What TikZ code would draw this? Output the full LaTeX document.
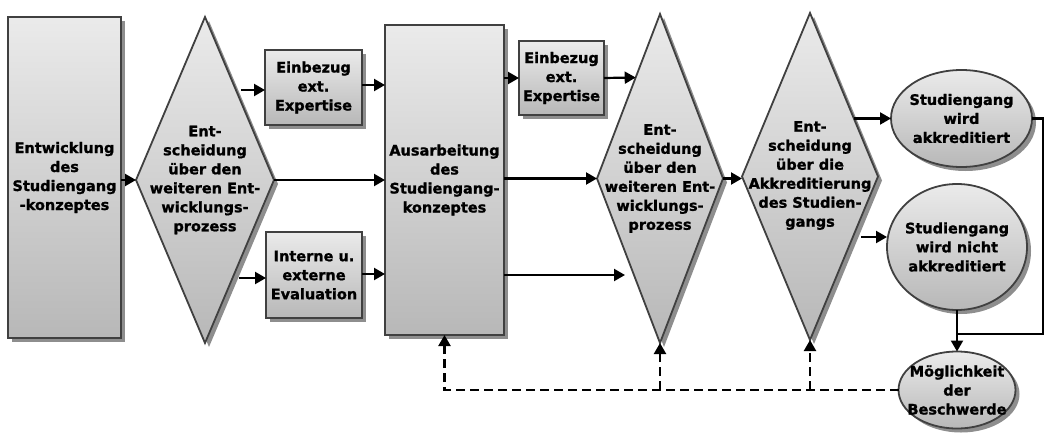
\documentclass[tikz,border=0pt]{standalone}
\usepackage{fontspec}
\setmainfont{DejaVu Sans}
\newfontfamily\hbfont{DejaVu Sans Bold}[FakeBold=1.2]
\usetikzlibrary{shapes.geometric,shadows,arrows.meta,calc}
\definecolor{bordc}{HTML}{404040}
\definecolor{shadc}{HTML}{8E8E8E}
\begin{document}
\begin{tikzpicture}[x=1pt,y=-1pt,
  shp/.style={draw=bordc, line width=1.8pt, top color=black!8, bottom color=black!28,
    drop shadow={shadow xshift=4pt, shadow yshift=-4pt, fill=shadc, opacity=1},
    inner sep=0pt, outer sep=0pt},
  box/.style={shp, rectangle, align=center, font=\hbfont\fontsize{14.5}{19}\selectfont},
  dia/.style={shp, diamond},
  ell/.style={shp, ellipse},
  txt/.style={align=center, inner sep=0pt, font=\hbfont\fontsize{14.5}{19}\selectfont},
  arr/.style={line width=2.2pt, -{Triangle[length=11pt,width=12pt]}},
  ln/.style={line width=2.2pt},
  darr/.style={line width=2.2pt, dash pattern=on 9pt off 5pt, -{Triangle[length=11pt,width=12pt]}}
]
\useasboundingbox (0,0) rectangle (1052,444);

% shapes
\node[box, minimum width=113pt, minimum height=321pt] (b1) at (64.5,177.5)
  {Entwicklung\\des\\Studiengang\\-konzeptes};
\node[dia, minimum width=138pt, minimum height=326pt] (d1) at (205,180) {};
\node[txt] (d1t) at (d1) {Ent-\\scheidung\\über den\\weiteren Ent-\\wicklungs-\\prozess};
\node[box, minimum width=97pt, minimum height=75pt] (e1) at (313.5,87.5)
  {Einbezug\\ext.\\Expertise};
\node[box, minimum width=96pt, minimum height=86pt] (i1) at (314,275)
  {Interne u.\\externe\\Evaluation};
\node[box, minimum width=119pt, minimum height=310pt] (a) at (444.5,180)
  {Ausarbeitung\\des\\Studiengang-\\konzeptes};
\node[box, minimum width=85pt, minimum height=74pt] (e2) at (561.5,78)
  {Einbezug\\ext.\\Expertise};
\node[dia, minimum width=126pt, minimum height=329pt] (d2) at (660,178.5) {};
\node[txt] (d2t) at (d2) {Ent-\\scheidung\\über den\\weiteren Ent-\\wicklungs-\\prozess};
\node[dia, minimum width=136pt, minimum height=327pt] (d3) at (810,176.5) {};
\node[txt] (d3t) at ($(d3)+(0,-1)$) {Ent-\\scheidung\\über die\\Akkreditierung\\des Studien-\\gangs};
\node[ell, minimum width=141pt, minimum height=97pt] (s1) at (961.5,118.5) {};
\node[txt] (s1t) at (s1) {Studiengang\\wird\\akkreditiert};
\node[ell, minimum width=140pt, minimum height=126pt] (s2) at (957,247) {};
\node[txt] (s2t) at (s2) {Studiengang\\wird nicht\\akkreditiert};
\node[ell, minimum width=117pt, minimum height=77pt] (m) at (957,390) {};
\node[txt] (mt) at (m) {Möglichkeit\\der\\Beschwerde};

% helper coordinates
\coordinate (e2d2) at ($(d2.north)!0.386!(d2.west)$);
\coordinate (d2in) at (625,275);
\coordinate (d3s1) at ($(d3.north)!0.645!(d3.east)$);
\coordinate (d3o) at (861,237);
\coordinate (rt) at (1043,334);

% connectors
\draw[arr] (b1.east |- d1.west) -- (d1.west);
\draw[arr] ($(e1.west)+(-24,2.5)$) -- (e1.west |- 0,90);
\draw[arr] (d1.east) -- (d1.east -| a.west);
\draw[arr] ($(i1.west)+(-27,3)$) -- (i1.west |- 0,278);
\draw[arr] (e1.east |- 0,85) -- (a.west |- 0,85);
\draw[arr] (i1.east |- 0,274) -- (a.west |- 0,274);
\draw[arr] (e2.west -| a.east) -- (e2.west);
\draw[arr] (e2.east) -- (e2d2);
\draw[arr] (d2.west -| a.east) -- (d2.west);
\draw[arr] (a.east |- d2in) -- (d2in);
\draw[arr] (d2.east) -- (d2.east -| d3.west);
\draw[arr] (d3s1) -- (d3s1 -| s1.west);
\draw[arr] (d3o) -- (d3o -| s2.west);
\draw[ln] (s1.east) -| (rt) -- (rt -| m.north);
\draw[arr] (s2.south) -- (m.north);

% dashed feedback
\draw[darr] (m.west) -| (a.south);
\draw[darr] (d2.south |- m.west) -- (d2.south);
\draw[darr] (d3.south |- m.west) -- (d3.south);
\end{tikzpicture}
\end{document}
